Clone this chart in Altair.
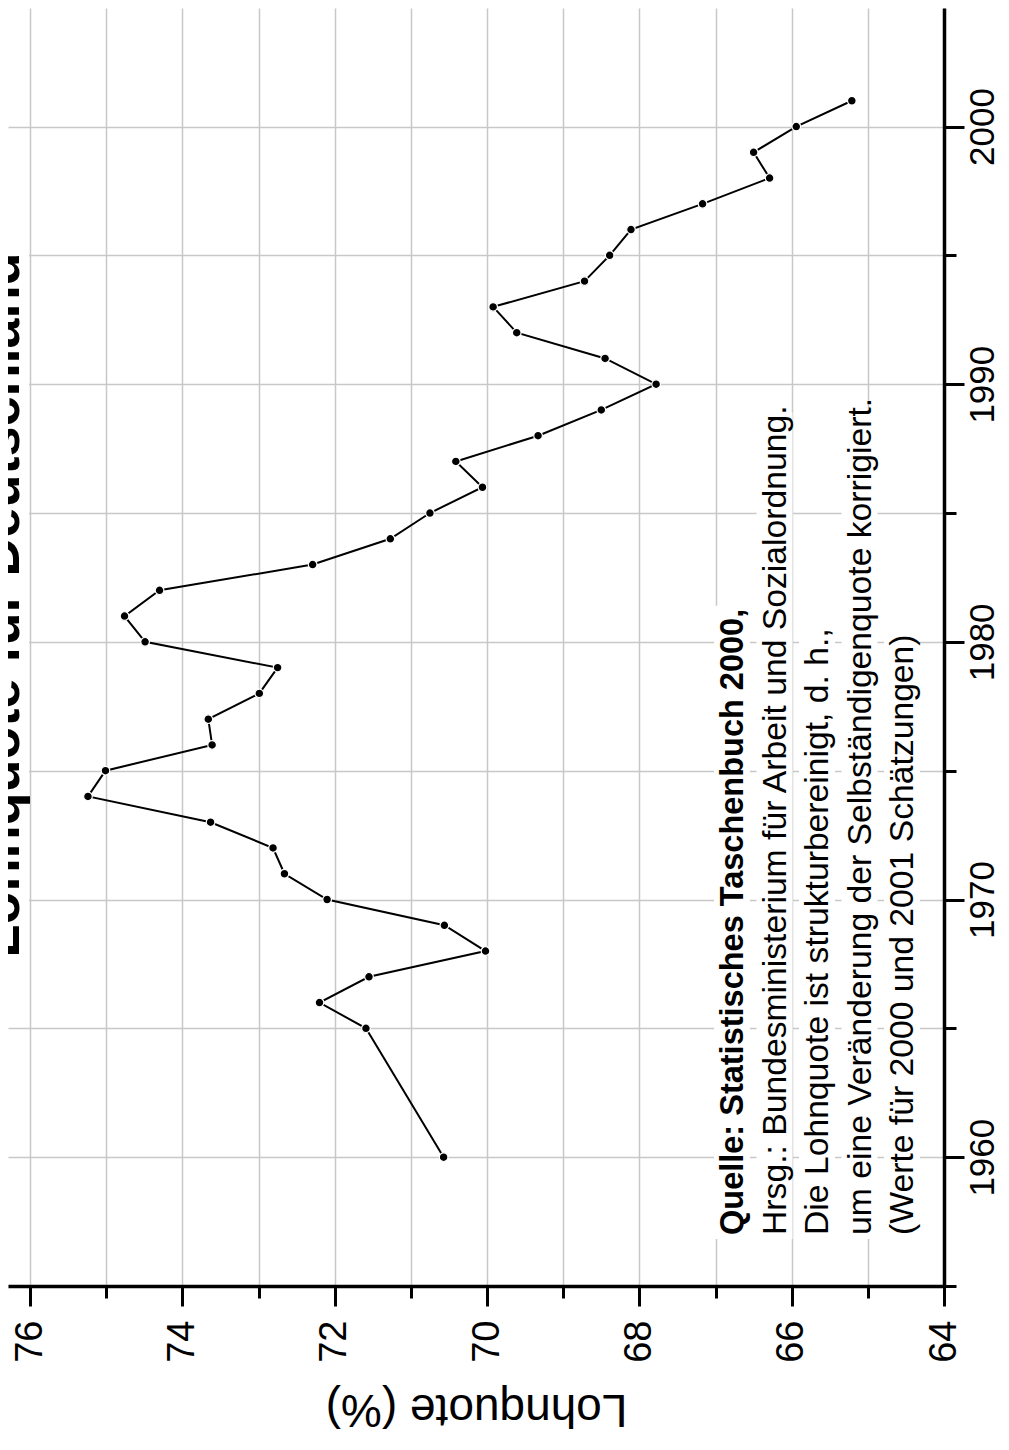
import altair as alt
import pandas as pd

# ---------------- data ----------------
years = [1960, 1965, 1966, 1967, 1968, 1969, 1970, 1971, 1972, 1973, 1974, 1975,
         1976, 1977, 1978, 1979, 1980, 1981, 1982, 1983, 1984, 1985, 1986, 1987,
         1988, 1989, 1990, 1991, 1992, 1993, 1994, 1995, 1996, 1997, 1998, 1999,
         2000, 2001]
lohnquote = [70.57, 71.59, 72.20, 71.55, 70.02, 70.56, 72.10, 72.66, 72.81, 73.63, 75.24, 75.01,
             73.61, 73.66, 72.99, 72.75, 74.49, 74.76, 74.30, 72.29, 71.27, 70.75, 70.06, 70.41,
             69.33, 68.50, 67.78, 68.45, 69.61, 69.92, 68.72, 68.39, 68.11, 67.17, 66.29, 66.50,
             65.94, 65.21]

chart_title = "Lohnquote für Deutschland"
axis_title = "Lohnquote (%)"
source_line = "Quelle: Statistisches Taschenbuch 2000,"
note_lines = [
    "Hrsg.: Bundesministerium für Arbeit und Sozialordnung.",
    "Die Lohnquote ist strukturbereinigt, d. h.,",
    "um eine Veränderung der Selbständigenquote korrigiert.",
    "(Werte für 2000 und 2001 Schätzungen)",
]
x_tick_values = list(range(64, 77))
year_tick_values = list(range(1955, 2001, 5))

# ---------------- layout (in data units of the two scales) ----------------
X_DOMAIN = [64, 76.29]
Y_DOMAIN = [1955, 2004.6]
W, H = 936, 1278
FONT = "Liberation Sans"

title_pos = (76.146, 1981.43)
title_box = (76.29, 76.014, 1967.5, 1995.36)

note_start_year = 1956.98
note_x = [66.639, 66.081, 65.523, 64.965, 64.407]
box_start_year = 1956.82
box_end_year = [1981.4, 1988.9, 1980.6, 1989.1, 1980.4]
BOX_LEFT, BOX_RIGHT = 0.381, 0.092

# ---------------- tables ----------------
df = pd.DataFrame({"Jahr": years, "Lohnquote": lohnquote})

boxes = pd.DataFrame({
    "Lohnquote": [title_box[0]] + [v + BOX_LEFT for v in note_x],
    "Lohnquote2": [title_box[1]] + [v - BOX_RIGHT for v in note_x],
    "Jahr": [title_box[2]] + [box_start_year] * 5,
    "Jahr2": [title_box[3]] + box_end_year,
})
title_df = pd.DataFrame({"Lohnquote": [title_pos[0]], "Jahr": [title_pos[1]], "Text": [chart_title]})
source_df = pd.DataFrame({"Lohnquote": [note_x[0]], "Jahr": [note_start_year], "Text": [source_line]})
notes_df = pd.DataFrame({"Lohnquote": note_x[1:], "Jahr": [note_start_year] * 4, "Text": note_lines})

# ---------------- scales & axes ----------------
x_scale = alt.Scale(domain=X_DOMAIN, reverse=True, nice=False, zero=False)
y_scale = alt.Scale(domain=Y_DOMAIN, nice=False, zero=False)

x_axis = alt.Axis(
    orient="bottom", values=x_tick_values,
    grid=True, gridColor="#c8c8c8", gridWidth=1.5,
    domain=True, domainColor="black", domainWidth=3.5,
    ticks=True, tickColor="black", tickWidth=3,
    tickSize={"condition": {"test": "datum.value % 2 === 0", "value": 20}, "value": 12},
    labelExpr="datum.value % 2 === 0 ? datum.label : ''",
    labelAngle=270, labelAlign="right", labelBaseline="middle", labelPadding=14,
    labelFont=FONT, labelFontSize=38, labelColor="black",
    labelOverlap=False, labelFlush=False,
    title=axis_title, titleFont=FONT, titleFontSize=46, titleFontWeight="normal",
    titleColor="black", titleAngle=180, titleAlign="center", titleBaseline="alphabetic",
    titleY=108,
)
y_axis = alt.Axis(
    orient="right", values=year_tick_values, format="d",
    grid=True, gridColor="#c8c8c8", gridWidth=1.5,
    domain=True, domainColor="black", domainWidth=3.5,
    ticks=True, tickColor="black", tickWidth=3,
    tickSize={"condition": {"test": "datum.value % 10 === 0", "value": 20}, "value": 12},
    labelExpr="datum.value % 10 === 0 ? datum.label : ''",
    labelAngle=270, labelAlign="center", labelBaseline="alphabetic", labelPadding=29.5,
    labelFont=FONT, labelFontSize=35, labelColor="black",
    labelOverlap=False, labelFlush=False,
    title="",
)

X = alt.X("Lohnquote:Q", scale=x_scale, axis=x_axis)
Y = alt.Y("Jahr:Q", scale=y_scale, axis=y_axis)

box_layer = alt.Chart(boxes).mark_rect(color="white").encode(
    x=X, x2="Lohnquote2:Q", y=Y, y2="Jahr2:Q")

title_layer = alt.Chart(title_df).mark_text(
    angle=270, align="center", baseline="alphabetic", font=FONT,
    fontSize=54, fontWeight="bold", color="black").encode(x=X, y=Y, text="Text:N")

source_layer = alt.Chart(source_df).mark_text(
    angle=270, align="left", baseline="alphabetic", font=FONT,
    fontSize=32.5, fontWeight="bold", color="black").encode(x=X, y=Y, text="Text:N")

notes_layer = alt.Chart(notes_df).mark_text(
    angle=270, align="left", baseline="alphabetic", font=FONT,
    fontSize=33.7, fontWeight="normal", color="black").encode(x=X, y=Y, text="Text:N")

line_layer = alt.Chart(df).mark_line(color="black", strokeWidth=2).encode(
    x=X, y=Y, order="Jahr:Q")

point_layer = alt.Chart(df).mark_circle(
    color="black", opacity=1, size=75, stroke="white", strokeWidth=1.2).encode(x=X, y=Y)

chart = alt.layer(
    box_layer, title_layer, source_layer, notes_layer, line_layer, point_layer
).properties(
    width=W, height=H,
    autosize=alt.AutoSizeParams(type="none"),
    padding={"left": 0, "top": 0, "right": 57, "bottom": 150},
    background="white",
).configure_view(stroke="transparent")

chart.save("out.html", embed_options={"renderer": "svg", "actions": False})
